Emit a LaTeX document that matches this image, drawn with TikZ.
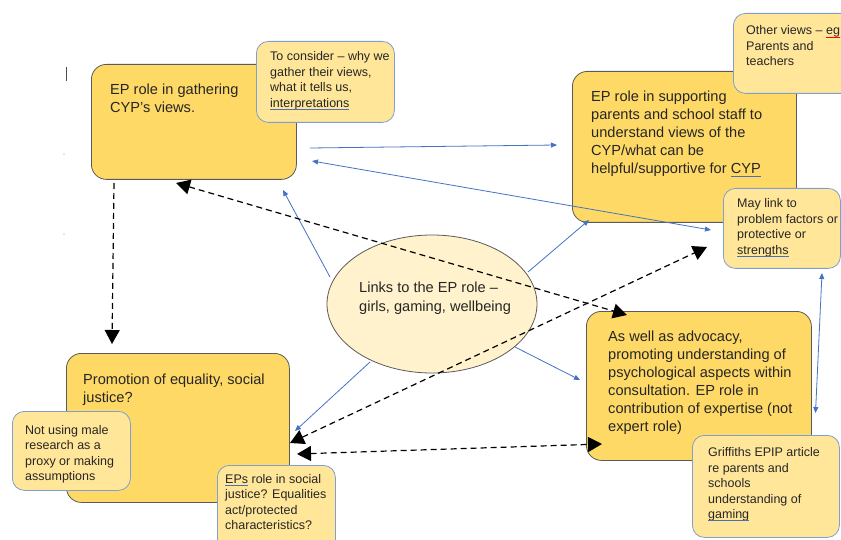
\documentclass[tikz,border=0pt]{standalone}
\usepackage{fontspec}
\setmainfont{Liberation Sans}
\usetikzlibrary{arrows.meta,shapes.geometric}
\definecolor{boxfill}{HTML}{FFD966}
\definecolor{notefill}{HTML}{FFE699}
\definecolor{ellfill}{HTML}{FFF2CC}
\definecolor{notedraw}{HTML}{7F9FD0}
\definecolor{boxdraw}{HTML}{5A5A5A}
\definecolor{linkblue}{HTML}{4472C4}
\definecolor{ulblue}{HTML}{4A6FB5}
\newsavebox\ulbox
\newcommand\myul[2][ulblue]{\sbox\ulbox{#2}\rlap{\usebox\ulbox}{\color{#1}\rule[-2.5pt]{\wd\ulbox}{0.6pt}}}
\tikzset{
  bigbox/.style={draw=boxdraw, fill=boxfill, line width=0.8pt, rounded corners=15pt, anchor=north west, inner sep=0pt},
  notebox/.style={draw=notedraw, fill=notefill, line width=0.8pt, rounded corners=12pt, anchor=north west, inner sep=0pt},
  bigtext/.style={anchor=base west, inner sep=0pt, align=left, font=\fontsize{14.6}{18}\selectfont, text=black!85},
  notetext/.style={anchor=base west, inner sep=0pt, align=left, font=\fontsize{12.5}{15.5}\selectfont, text=black!85},
  bluelink/.style={draw=linkblue, line width=0.8pt, -{Triangle[length=6pt,width=5pt]}},
  bluelinkboth/.style={draw=linkblue, line width=0.8pt, {Triangle[length=6pt,width=5pt]}-{Triangle[length=6pt,width=5pt]}},
  dashlink/.style={draw=black, line width=1.2pt, dash pattern=on 6pt off 4pt, -{Triangle[length=14pt,width=15pt]}},
  dashlinkboth/.style={draw=black, line width=1.2pt, dash pattern=on 6pt off 4pt, {Triangle[length=14pt,width=15pt]}-{Triangle[length=14pt,width=15pt]}},
}
\begin{document}
\begin{tikzpicture}[x=1pt,y=-1pt]
\useasboundingbox (0,0) rectangle (841,540);
\fill[white] (0,0) rectangle (841,540);

% stray marks
\draw[black!70, line width=0.8pt] (66.5,67) -- (66.5,81);
\fill[black!40] (64,154) circle (0.6);
\fill[black!40] (64,234) circle (0.6);

% box A (text anchors give the baseline of the last line)
\node[bigbox, minimum width=205pt, minimum height=115pt] (A) at (91,64) {};
\node[bigtext] (At) at (110,113) {EP role in gathering\\CYP’s views.};
\node[notebox, minimum width=138pt, minimum height=81pt] (NA) at (256,41) {};
\node[notetext] (NAt) at (270,107.5) {To consider – why we\\gather their views,\\what it tells us,\\\myul{interpretations}};

% box B
\node[bigbox, minimum width=224pt, minimum height=151pt] (B) at (572,71) {};
\node[bigtext] (Bt) at (591,174) {EP role in supporting\\parents and school staff to\\understand views of the\\CYP/what can be\\helpful/supportive for \myul{CYP}};
\node[notebox, minimum width=125pt, minimum height=80pt] (NB) at (733,13) {};
\node[notetext] (NBt) at (746,66) {Other views – \myul[red]{eg}\\Parents and\\teachers};
\node[notebox, minimum width=117pt, minimum height=80pt] (NC) at (723,188) {};
\node[notetext] (NCt) at (737,254.5) {May link to\\problem factors or\\protective or\\\myul{strengths}};

% ellipse
\node[ellipse, draw=boxdraw, fill=ellfill, line width=0.8pt, minimum width=210pt, minimum height=138pt, inner sep=0pt] (E) at (432,304) {};
\node[bigtext, font=\fontsize{14.6}{19}\selectfont] (Et) at (359,312) {Links to the EP role –\\girls, gaming, wellbeing};

% box C
\node[bigbox, minimum width=223pt, minimum height=149pt] (C) at (66,353) {};
\node[bigtext] (Ct) at (83,402) {Promotion of equality, social\\justice?};
\node[notebox, minimum width=118pt, minimum height=79pt] (ND) at (12,411) {};
\node[notetext] (NDt) at (25,480.5) {Not using male\\research as a\\proxy or making\\assumptions};
\node[notebox, minimum width=118pt, minimum height=88pt] (NE) at (217,465) {};
\node[notetext] (NEt) at (225,529.5) {\myul{EPs} role in social\\justice? Equalities\\act/protected\\characteristics?};

% box D
\node[bigbox, minimum width=225pt, minimum height=149pt] (D) at (586,311) {};
\node[bigtext] (Dt) at (608,431.5) {As well as advocacy,\\promoting understanding of\\psychological aspects within\\consultation. EP role in\\contribution of expertise (not\\expert role)};
\node[notebox, minimum width=147pt, minimum height=102pt] (NF) at (692,435) {};
\node[notetext] (NFt) at (708,518.5) {Griffiths EPIP article\\re parents and\\schools\\understanding of\\\myul{gaming}};

% connector end points
\coordinate (b1s) at (310,148);
\coordinate (b1e) at (557,145);
\coordinate (b2s) at (312,161);
\coordinate (b2e) at (711,230);
\coordinate (b3s) at (330,277);
\coordinate (b3e) at (283,190);
\coordinate (b4s) at (528,272);
\coordinate (b4e) at (589,220);
\coordinate (b5s) at (515,347);
\coordinate (b5e) at (580,380);
\coordinate (b6s) at (370,362);
\coordinate (b6e) at (295,431);
\coordinate (b7s) at (822,273);
\coordinate (b7e) at (815.5,413);

\coordinate (d1s) at (114,183);
\coordinate (d1e) at (112,344);
\coordinate (d2s) at (176,183);
\coordinate (d2e) at (627,315);
\coordinate (d3s) at (290,443);
\coordinate (d3e) at (707,247);
\coordinate (d4s) at (297,454);
\coordinate (d4e) at (602,444);

% blue connectors
\draw[bluelink] (b1s) -- (b1e);
\draw[bluelinkboth] (b2s) -- (b2e);
\draw[bluelink] (b3s) -- (b3e);
\draw[bluelink] (b4s) -- (b4e);
\draw[bluelink] (b5s) -- (b5e);
\draw[bluelink] (b6s) -- (b6e);
\draw[bluelinkboth] (b7s) -- (b7e);

% dashed connectors
\draw[dashlink] (d1s) -- (d1e);
\draw[dashlinkboth] (d2s) -- (d2e);
\draw[dashlinkboth] (d3s) -- (d3e);
\draw[dashlinkboth] (d4s) -- (d4e);
\end{tikzpicture}
\end{document}
